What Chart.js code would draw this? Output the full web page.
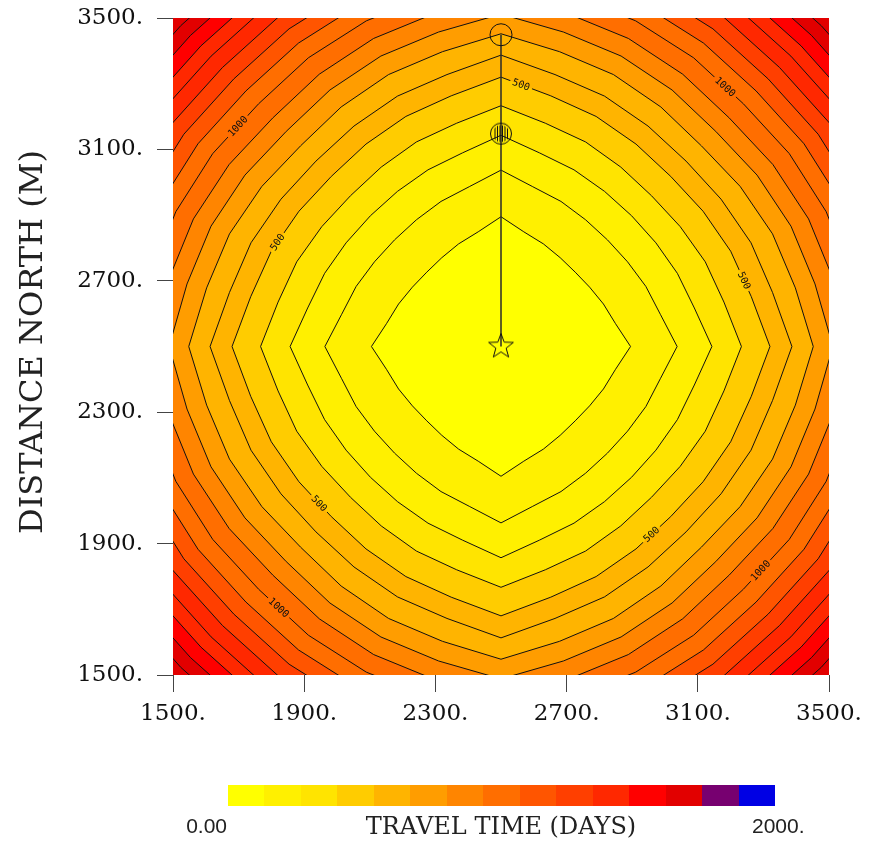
<!DOCTYPE html>
<html>
<head>
<meta charset="utf-8">
<script src="https://cdn.jsdelivr.net/npm/chart.js@4.4.0/dist/chart.umd.min.js"></script>
<style>
  html, body { margin: 0; padding: 0; background: #ffffff; }
  #baseMapa { width: 871px; height: 845px; }
</style>
</head>
<body>
<div id="baseMapa"><canvas id="mapaTiempo" width="871" height="845"></canvas></div>
<script>
/* DATOS */
// centro del pozo (m)
const centroX = 2500;
const centroY = 2500;

// niveles de contorno (dias)
const contourLevels = [100, 200, 300, 400, 500, 600, 700, 800, 900, 1000, 1100, 1200, 1300, 1400, 1500, 1600, 1700];
// angulos de lectura en un octante (grados desde el eje)
const rayAngles = [0, 11.25, 22.5, 33.75, 45];
const radiusAxis = [395, 537, 643, 733, 820, 887, 952, 1012, 1070, 1124, 1176, 1226, 1274, 1321, 1365, 1409, 1451];
const radius11   = [356, 496, 601, 693, 778, 844, 915, 976, 1034, 1091, 1144, 1195, 1243, 1291, 1335, 1380, 1422];
const radius22   = [338, 478, 582, 674, 758, 825, 896, 957, 1015, 1073, 1127, 1179, 1227, 1276, 1320, 1364, 1406];
const radius34   = [325, 464, 568, 657, 741, 807, 877, 939, 997, 1057, 1111, 1163, 1212, 1261, 1305, 1350, 1392];
const radiusDiag = [320, 459, 563, 649, 732, 798, 864, 926, 984, 1045, 1100, 1152, 1201, 1250, 1294, 1339, 1381];

// linea del pozo y puntos de control (m)
const pozoLineaY = [2500, 3449];
const circuloAbiertoY = 3449;
const circuloRayadoY = 3148;

// ticks
const xTicks = [1500, 1900, 2300, 2700, 3100, 3500];
const yTicks = [1500, 1900, 2300, 2700, 3100, 3500];

// etiquetas de contorno: nivel y angulo (grados, desde el este)
const labelLevels = [500, 1000, 1000, 500, 500, 500, 1000, 500, 1000];
const labelAngles = [85.6, 49.2, 140.1, 155, 15.2, 220.8, 229.6, 308.7, 319.2];

// barra de colores
const barColors = ['#ffff00', '#fff000', '#ffe400', '#ffcc00', '#ffb400', '#ff9d00', '#ff8500',
  '#ff6e00', '#ff5500', '#ff3f00', '#ff2800', '#ff0000', '#e20000', '#770070', '#0000e4'];
const barMin = 0;
const barMax = 2000;
const barLabels = ['0.00', '2000.'];
const barTitle = 'TRAVEL TIME (DAYS)';
const yTitle = 'DISTANCE NORTH (M)';


function colorDeTiempo(t) {
  let i = Math.floor((t - barMin) / (barMax - barMin) * barColors.length);
  i = Math.max(0, Math.min(barColors.length - 1, i));
  return barColors[i];
}

/* CONTORNOS */
function armarContorno(i) {
  const radios = [radiusAxis[i], radius11[i], radius22[i], radius34[i], radiusDiag[i]];
  const pts = [];
  for (let q = 0; q < 4; q++) {
    for (let k = 0; k < 8; k++) {
      const idx = k <= 4 ? k : 8 - k;
      const angLocal = k <= 4 ? rayAngles[k] : 90 - rayAngles[8 - k];
      const ang = (q * 90 + angLocal) * Math.PI / 180;
      pts.push({ x: centroX + radios[idx] * Math.cos(ang), y: centroY + radios[idx] * Math.sin(ang) });
    }
  }
  pts.push({ x: pts[0].x, y: pts[0].y });
  return pts;
}

const contornos = contourLevels.map((lv, i) => armarContorno(i));

/* MARCADORES */
function crearEstrella() {
  const c = document.createElement('canvas');
  c.width = 32; c.height = 32;
  const g = c.getContext('2d');
  g.strokeStyle = '#111';
  g.lineWidth = 1;
  g.beginPath();
  for (let k = 0; k < 10; k++) {
    const r = k % 2 ? 5.4 : 13;
    const a = -Math.PI / 2 + k * Math.PI / 5;
    const px = 16 + r * Math.cos(a), py = 16 + r * Math.sin(a);
    if (k) g.lineTo(px, py); else g.moveTo(px, py);
  }
  g.closePath();
  g.stroke();
  return c;
}

function crearCirculoRayado() {
  const c = document.createElement('canvas');
  c.width = 26; c.height = 26;
  const g = c.getContext('2d');
  g.strokeStyle = '#111';
  g.lineWidth = 1;
  g.beginPath();
  g.arc(13, 13, 10.5, 0, Math.PI * 2);
  g.stroke();
  g.save();
  g.beginPath();
  g.arc(13, 13, 8.5, 0, Math.PI * 2);
  g.clip();
  g.beginPath();
  [-6.5, -4, -1.5, 1, 3.5, 6].forEach(dx => {
    g.moveTo(13 + dx + 0.5, 3);
    g.lineTo(13 + dx + 0.5, 23);
  });
  g.stroke();
  g.restore();
  return c;
}

let etiquetasPos = [];

function ubicarEtiqueta(chart, nivel, anguloDeg) {
  const sx = chart.scales.x, sy = chart.scales.y;
  const i = contourLevels.indexOf(nivel);
  const pts = contornos[i].map(p => ({ x: sx.getPixelForValue(p.x), y: sy.getPixelForValue(p.y) }));
  const cx = sx.getPixelForValue(centroX), cy = sy.getPixelForValue(centroY);
  const a = anguloDeg * Math.PI / 180;
  const dx = Math.cos(a), dy = -Math.sin(a);
  for (let j = 0; j < pts.length - 1; j++) {
    const ex = pts[j + 1].x - pts[j].x, ey = pts[j + 1].y - pts[j].y;
    const den = dx * ey - dy * ex;
    if (Math.abs(den) < 1e-9) continue;
    const wx = pts[j].x - cx, wy = pts[j].y - cy;
    const t = (wx * ey - wy * ex) / den;
    const u = (wx * dy - wy * dx) / den;
    if (t > 0 && u >= 0 && u <= 1) {
      let rot = Math.atan2(ey, ex);
      if (rot > Math.PI / 2) rot -= Math.PI;
      if (rot < -Math.PI / 2) rot += Math.PI;
      return { x: cx + t * dx, y: cy + t * dy, rot: rot, texto: String(nivel) };
    }
  }
  return null;
}

const fuenteEtiqueta = '10px "DejaVu Sans Mono"';

const pluginMapa = {
  id: 'pluginMapa',
  beforeDatasetsDraw(chart) {
    const { ctx, chartArea: a } = chart;
    const sx = chart.scales.x, sy = chart.scales.y;

    /* RELLENO */
    ctx.save();
    ctx.beginPath();
    ctx.rect(a.left, a.top, a.right - a.left, a.bottom - a.top);
    ctx.clip();
    ctx.fillStyle = colorDeTiempo(contourLevels[contourLevels.length - 1]);
    ctx.fillRect(a.left, a.top, a.right - a.left, a.bottom - a.top);
    for (let i = contourLevels.length - 1; i >= 0; i--) {
      const paso = i > 0 ? contourLevels[i] - contourLevels[i - 1] : contourLevels[0];
      ctx.fillStyle = colorDeTiempo(contourLevels[i] - paso / 2);
      ctx.beginPath();
      contornos[i].forEach((p, j) => {
        const px = sx.getPixelForValue(p.x), py = sy.getPixelForValue(p.y);
        if (j) ctx.lineTo(px, py); else ctx.moveTo(px, py);
      });
      ctx.closePath();
      ctx.fill();
    }
    ctx.restore();

    /* HUECOS PARA ETIQUETAS */
    etiquetasPos = labelLevels.map((lv, k) => ubicarEtiqueta(chart, lv, labelAngles[k])).filter(e => e);
    ctx.save();
    ctx.font = fuenteEtiqueta;
    ctx.beginPath();
    ctx.rect(0, 0, chart.width, chart.height);
    etiquetasPos.forEach(e => {
      const w = ctx.measureText(e.texto).width + 5;
      const h = 10;
      const c = Math.cos(e.rot), s = Math.sin(e.rot);
      const esq = [[-w / 2, -h / 2], [w / 2, -h / 2], [w / 2, h / 2], [-w / 2, h / 2]];
      esq.forEach((p, j) => {
        const px = e.x + p[0] * c - p[1] * s;
        const py = e.y + p[0] * s + p[1] * c;
        if (j) ctx.lineTo(px, py); else ctx.moveTo(px, py);
      });
      ctx.closePath();
    });
    ctx.clip('evenodd');
  },
  afterDatasetsDraw(chart) {
    const ctx = chart.ctx;
    ctx.restore();
    ctx.save();
    ctx.font = fuenteEtiqueta;
    ctx.fillStyle = '#111';
    ctx.textAlign = 'center';
    ctx.textBaseline = 'middle';
    etiquetasPos.forEach(e => {
      ctx.save();
      ctx.translate(e.x, e.y);
      ctx.rotate(e.rot);
      ctx.fillText(e.texto, 0, 0.5);
      ctx.restore();
    });
    ctx.restore();
  },
  afterDraw(chart) {
    const ctx = chart.ctx;
    ctx.save();

    /* TITULO EJE Y */
    ctx.fillStyle = '#222';
    ctx.font = '32px "DejaVu Serif"';
    ctx.textAlign = 'center';
    ctx.textBaseline = 'middle';
    ctx.translate(34, 342);
    ctx.rotate(-Math.PI / 2);
    ctx.fillText(yTitle, 0, 0);
    ctx.setTransform(1, 0, 0, 1, 0, 0);

    /* BARRA DE COLORES */
    const bx = 228, bw = 547, by = 785, bh = 21;
    const seg = bw / barColors.length;
    barColors.forEach((col, i) => {
      ctx.fillStyle = col;
      ctx.fillRect(Math.round(bx + i * seg), by, Math.round(bx + (i + 1) * seg) - Math.round(bx + i * seg), bh);
    });

    ctx.fillStyle = '#222';
    ctx.font = '21px "Liberation Sans"';
    ctx.textBaseline = 'middle';
    ctx.textAlign = 'right';
    ctx.fillText(barLabels[0], 227, 827);
    ctx.textAlign = 'left';
    ctx.fillText(barLabels[1], 752, 827);

    ctx.font = '24px "DejaVu Serif"';
    ctx.textAlign = 'center';
    ctx.fillText(barTitle, 501, 828);
    ctx.restore();
  }
};

/* GRAFICA */
const datasets = [];

datasets.push({
  label: 'pozo',
  data: [{ x: centroX, y: centroY }],
  pointStyle: crearEstrella(),
  pointRadius: 13,
  showLine: false,
  order: 0
});
datasets.push({
  label: 'circulo abierto',
  data: [{ x: centroX, y: circuloAbiertoY }],
  pointStyle: 'circle',
  pointRadius: 11,
  pointBorderColor: '#111',
  pointBackgroundColor: 'rgba(0,0,0,0)',
  pointBorderWidth: 1,
  showLine: false,
  order: 0
});
datasets.push({
  label: 'circulo rayado',
  data: [{ x: centroX, y: circuloRayadoY }],
  pointStyle: crearCirculoRayado(),
  pointRadius: 11,
  showLine: false,
  order: 0
});
datasets.push({
  label: 'linea pozo',
  data: pozoLineaY.map(v => ({ x: centroX, y: v })),
  showLine: true,
  borderColor: '#2a2a2a',
  borderWidth: 1.5,
  pointRadius: 0,
  order: 0
});

contourLevels.forEach((lv, i) => {
  datasets.push({
    label: 'contorno ' + lv,
    data: contornos[i],
    showLine: true,
    borderColor: '#111',
    borderWidth: 1,
    pointRadius: 0,
    fill: false,
    tension: 0,
    order: 1
  });
});

const tickFont = { family: 'DejaVu Serif', size: 23 };

new Chart(document.getElementById('mapaTiempo').getContext('2d'), {
  type: 'scatter',
  data: { datasets: datasets },
  options: {
    responsive: false,
    animation: false,
    devicePixelRatio: 1,
    layout: { padding: { top: 18, right: 42, left: 0, bottom: 110 } },
    plugins: {
      legend: { display: false },
      tooltip: { enabled: false }
    },
    scales: {
      x: {
        type: 'linear',
        min: 1500,
        max: 3500,
        afterBuildTicks: scale => { scale.ticks = xTicks.map(v => ({ value: v })); },
        afterFit: scale => {
          scale.height = 60;
          scale.paddingLeft = 0;
          scale.paddingRight = 0;
        },
        ticks: {
          color: '#111',
          font: tickFont,
          padding: 8,
          maxRotation: 0,
          autoSkip: false,
          callback: v => v + '.'
        },
        grid: { drawOnChartArea: false, drawTicks: true, tickLength: 17, color: '#444', lineWidth: 1 },
        border: { display: false }
      },
      y: {
        type: 'linear',
        min: 1500,
        max: 3500,
        afterBuildTicks: scale => { scale.ticks = yTicks.map(v => ({ value: v })); },
        afterFit: scale => {
          scale.width = 173;
          scale.paddingTop = 0;
          scale.paddingBottom = 0;
        },
        ticks: {
          color: '#111',
          font: tickFont,
          padding: 14,
          autoSkip: false,
          callback: v => v + '.'
        },
        grid: { drawOnChartArea: false, drawTicks: true, tickLength: 16, color: '#444', lineWidth: 1 },
        border: { display: false }
      }
    }
  },
  plugins: [pluginMapa]
});
</script>
</body>
</html>
